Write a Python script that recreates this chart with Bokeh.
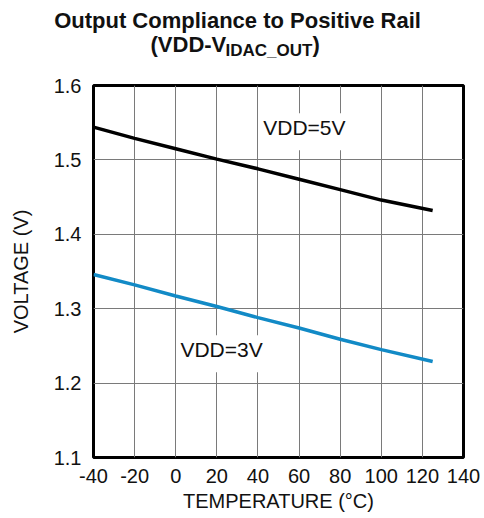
from bokeh.plotting import figure
from bokeh.layouts import column
from bokeh.models import Label, FixedTicker, Range1d
from bokeh.core.properties import value
from bokeh.embed import file_html
from bokeh.resources import INLINE

# ---- data ----
temperature = [-40, -20, 0, 20, 40, 60, 80, 100, 125]
vdd5_voltage = [1.544, 1.529, 1.515, 1.501, 1.488, 1.474, 1.460, 1.446, 1.432]
vdd3_voltage = [1.346, 1.332, 1.317, 1.303, 1.288, 1.274, 1.259, 1.245, 1.229]
x_ticks = [-40, -20, 0, 20, 40, 60, 80, 100, 120, 140]
y_ticks = [1.1, 1.2, 1.3, 1.4, 1.5, 1.6]
x_tick_labels = ["-40", "-20", "0", "20", "40", "60", "80", "100", "120", "140"]
y_tick_labels = ["1.1", "1.2", "1.3", "1.4", "1.5", "1.6"]
series_labels = ["VDD=5V", "VDD=3V"]
label_x = [62.6, 22.3]
label_y = [1.538, 1.2395]
title_line1 = "Output Compliance to Positive Rail"
title_line2 = ["(VDD-V", "IDAC_OUT", ")"]

FONT = "Liberation Sans"
TXT = "#111111"
W = 484
TH = 64            # title strip height
H = 518 - TH       # main chart height

# ---------- title strip ----------
t = figure(width=W, height=TH, output_backend="svg", toolbar_location=None,
           x_range=Range1d(0, W), y_range=Range1d(TH, 0),
           x_axis_type=None, y_axis_type=None, min_border=0, title=None)
t.frame_align = False
t.outline_line_color = None
t.background_fill_color = "white"
t.border_fill_color = "white"
t.text(x=[237], y=[20], text=[title_line1], text_align="center",
       text_baseline="alphabetic", text_font=value(FONT),
       text_font_style="bold", text_font_size="22px", text_color=TXT)
t.text(x=[150], y=[44], text=[title_line2[0]], text_align="left",
       text_baseline="alphabetic", text_font=value(FONT),
       text_font_style="bold", text_font_size="22px", text_color=TXT)
t.text(x=[225], y=[50], text=[title_line2[1]], text_align="left",
       text_baseline="alphabetic", text_font=value(FONT),
       text_font_style="bold", text_font_size="17px", text_color=TXT)
t.text(x=[312], y=[44], text=[title_line2[2]], text_align="left",
       text_baseline="alphabetic", text_font=value(FONT),
       text_font_style="bold", text_font_size="22px", text_color=TXT)

# ---------- main chart ----------
p = figure(width=W, height=H, output_backend="svg", toolbar_location=None,
           x_range=Range1d(-40, 140), y_range=Range1d(1.1, 1.6), title=None,
           min_border_left=93, min_border_right=21, min_border_top=85 - TH,
           min_border_bottom=61)
p.frame_align = False
p.background_fill_color = "white"
p.border_fill_color = "white"
p.outline_line_color = "black"
p.outline_line_width = 3

p.xaxis.ticker = FixedTicker(ticks=x_ticks)
p.yaxis.ticker = FixedTicker(ticks=y_ticks)
p.xaxis.major_label_overrides = dict(zip(x_ticks, x_tick_labels))
p.yaxis.major_label_overrides = dict(zip(y_ticks, y_tick_labels))
p.xgrid.ticker = FixedTicker(ticks=x_ticks)
p.ygrid.ticker = FixedTicker(ticks=y_ticks)
for g in (p.xgrid, p.ygrid):
    g.grid_line_color = "#7a7a7a"
    g.grid_line_width = 1
    g.grid_line_alpha = 1

for ax in (p.xaxis, p.yaxis):
    ax.axis_line_color = None
    ax.major_tick_line_color = None
    ax.minor_tick_line_color = None
    ax.major_tick_out = 0
    ax.major_tick_in = 0
    ax.minor_tick_out = 0
    ax.major_label_text_font = FONT
    ax.major_label_text_font_size = "20px"
    ax.major_label_text_color = TXT
    ax.axis_label_text_font = FONT
    ax.axis_label_text_font_size = "20px"
    ax.axis_label_text_font_style = "normal"
    ax.axis_label_text_color = TXT

p.xaxis.axis_label = "TEMPERATURE (°C)"
p.yaxis.axis_label = "VOLTAGE (V)"
p.xaxis.major_label_standoff = 11
p.xaxis.axis_label_standoff = 4
p.yaxis.major_label_standoff = 12
p.yaxis.axis_label_standoff = 19

p.line(temperature, vdd5_voltage, line_color="black", line_width=3.5)
p.line(temperature, vdd3_voltage, line_color="#128ac6", line_width=3.5)

for txt, lx, ly in zip(series_labels, label_x, label_y):
    p.add_layout(Label(x=lx, y=ly, text=txt, text_align="center",
                       text_baseline="alphabetic", text_font=FONT,
                       text_font_size="21px", text_color=TXT,
                       background_fill_color="white",
                       padding=dict(left=2, right=2, top=3, bottom=11)))

layout = column(t, p, spacing=0)
open("out.html", "w").write(file_html(layout, INLINE))
